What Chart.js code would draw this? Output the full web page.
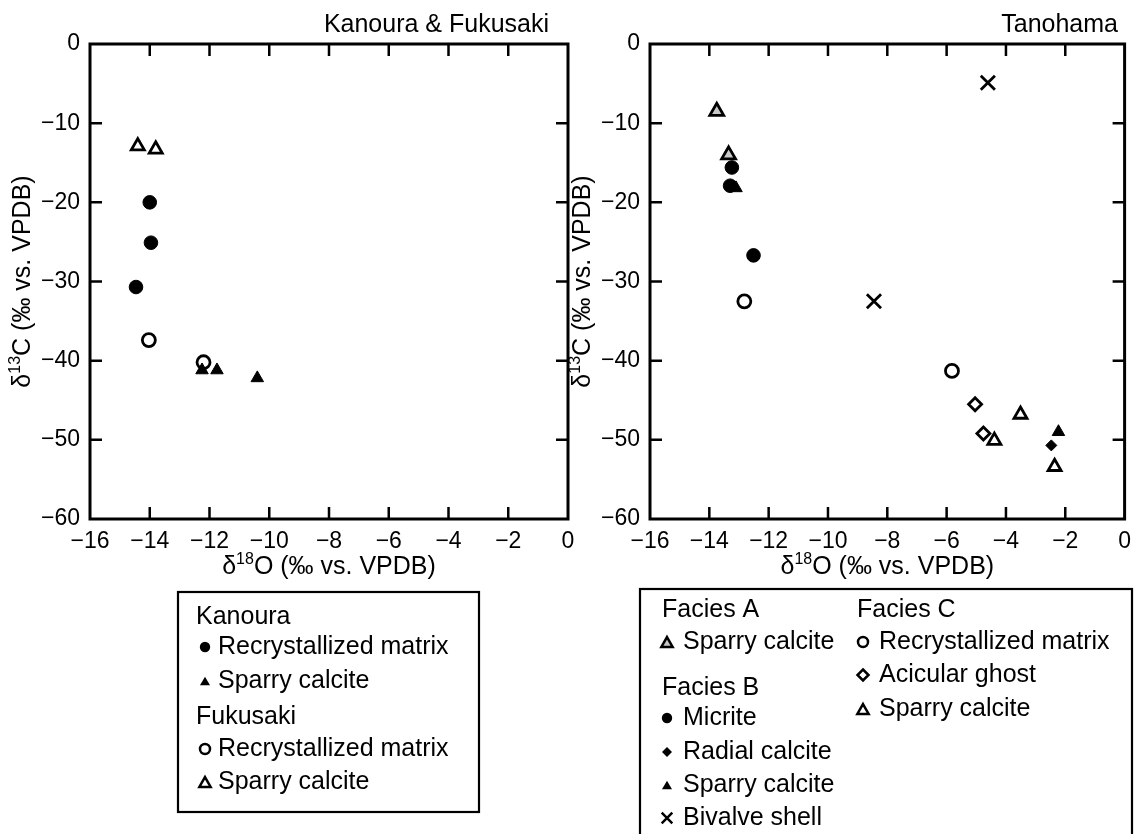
<!DOCTYPE html>
<html>
<head>
<meta charset="utf-8">
<script src="https://cdn.jsdelivr.net/npm/chart.js"></script>
<style>
html, body { margin: 0; padding: 0; background: #fff; }
#wrap { position: relative; width: 1140px; height: 834px; overflow: hidden; }
canvas { position: absolute; top: 0; }
</style>
</head>
<body>
<div id="wrap">
  <canvas id="kanoura" width="600" height="834" style="left:0"></canvas>
  <canvas id="tanohama" width="580" height="834" style="left:560px"></canvas>
</div>
<script>
// axis ticks
const xTickValues = [-16, -14, -12, -10, -8, -6, -4, -2, 0];
const yTickValues = [-60, -50, -40, -30, -20, -10, 0];

// Kanoura & Fukusaki (d18O, d13C)
const kanouraMatrixX = [-14.0, -13.96, -14.46];
const kanouraMatrixY = [-20.0, -25.1, -30.7];
const kanouraSparryX = [-12.25, -11.75, -10.4];
const kanouraSparryY = [-41.2, -41.2, -42.2];
const fukusakiMatrixX = [-14.03, -12.2];
const fukusakiMatrixY = [-37.4, -40.2];
const fukusakiSparryX = [-14.4, -13.8];
const fukusakiSparryY = [-12.9, -13.3];

// Tanohama
const faciesASparryX = [-13.75, -13.35];
const faciesASparryY = [-8.5, -14.0];
const micriteX = [-13.24, -13.3, -12.51];
const micriteY = [-15.6, -17.9, -26.7];
const radialX = [-2.47];
const radialY = [-50.7];
const faciesBSparryX = [-13.1, -2.23];
const faciesBSparryY = [-18.2, -49.0];
const bivalveX = [-4.61, -8.45];
const bivalveY = [-4.9, -32.5];
const faciesCMatrixX = [-12.82, -5.82];
const faciesCMatrixY = [-32.5, -41.3];
const acicularX = [-5.04, -4.76];
const acicularY = [-45.5, -49.2];
const faciesCSparryX = [-4.39, -3.51, -2.36];
const faciesCSparryY = [-50.1, -46.8, -53.4];

const FONT = '"Liberation Sans", Arial, Helvetica, sans-serif';
Chart.defaults.font.family = FONT;
Chart.defaults.color = '#000';

const fmt = v => (v < 0 ? '\u2212' + Math.abs(v) : String(v));

function pts(xs, ys) {
  return xs.map((x, i) => ({ x: x, y: ys[i] }));
}

function series(label, xs, ys, style, r, fill, lw) {
  return {
    label: label,
    data: pts(xs, ys),
    pointStyle: style,
    pointRadius: r,
    pointHoverRadius: r,
    pointBackgroundColor: fill,
    pointBorderColor: '#000',
    pointBorderWidth: lw,
    showLine: false
  };
}

// little marker painter for the legend boxes
function marker(ctx, style, x, y, r, fill, lw) {
  ctx.save();
  ctx.beginPath();
  if (style === 'circle') {
    ctx.arc(x, y, r, 0, Math.PI * 2);
  } else if (style === 'triangle') {
    y += r * 0.25;
    ctx.moveTo(x, y - r);
    ctx.lineTo(x + r * 0.866, y + r / 2);
    ctx.lineTo(x - r * 0.866, y + r / 2);
    ctx.closePath();
  } else if (style === 'rectRot') {
    ctx.moveTo(x, y - r);
    ctx.lineTo(x + r, y);
    ctx.lineTo(x, y + r);
    ctx.lineTo(x - r, y);
    ctx.closePath();
  } else if (style === 'crossRot') {
    const d = r * 0.707;
    ctx.moveTo(x - d, y - d); ctx.lineTo(x + d, y + d);
    ctx.moveTo(x + d, y - d); ctx.lineTo(x - d, y + d);
  }
  if (fill) { ctx.fillStyle = fill; ctx.fill(); }
  if (lw) { ctx.lineWidth = lw; ctx.strokeStyle = '#000'; ctx.lineJoin = 'miter'; ctx.stroke(); }
  ctx.restore();
}

function supText(ctx, parts, cx, cy, rot) {
  const big = '25px ' + FONT, small = '16px ' + FONT;
  let w = 0;
  parts.forEach(p => { ctx.font = p.sup ? small : big; p.w = ctx.measureText(p.t).width; w += p.w; });
  ctx.save();
  ctx.translate(cx, cy);
  ctx.rotate(rot);
  ctx.fillStyle = '#000';
  ctx.textBaseline = 'middle';
  ctx.textAlign = 'left';
  let px = -w / 2;
  parts.forEach(p => {
    ctx.font = p.sup ? small : big;
    ctx.fillText(p.t, px, p.sup ? -7 : 0);
    px += p.w;
  });
  ctx.restore();
}

// frame, inner ticks, titles and the boxed legend; cfg kept in a closure
function makeDecor(cfg) {
  return {
    id: 'decor',
    beforeDatasetsDraw(chart) {
      const ctx = chart.ctx, a = chart.chartArea;
      const x = chart.scales.x, y = chart.scales.y;
      ctx.save();
      ctx.strokeStyle = '#000';
      ctx.lineWidth = 2.5;
      ctx.beginPath();
      x.ticks.forEach(t => {
        if (t.value === x.min || t.value === x.max) return;
        const px = x.getPixelForValue(t.value);
        ctx.moveTo(px, a.bottom); ctx.lineTo(px, a.bottom - 12);
        ctx.moveTo(px, a.top); ctx.lineTo(px, a.top + 12);
      });
      y.ticks.forEach(t => {
        if (t.value === y.min || t.value === y.max) return;
        const py = y.getPixelForValue(t.value);
        ctx.moveTo(a.left, py); ctx.lineTo(a.left + 12, py);
        ctx.moveTo(a.right, py); ctx.lineTo(a.right - 12, py);
      });
      ctx.stroke();
      ctx.lineWidth = 3;
      ctx.strokeRect(a.left, a.top, a.right - a.left, a.bottom - a.top);
      ctx.restore();
    },
    afterDraw(chart) {
      const ctx = chart.ctx, a = chart.chartArea;
      const off = cfg.offset;
      ctx.save();
      ctx.fillStyle = '#000';
      ctx.font = '25px ' + FONT;
      ctx.textAlign = 'right';
      ctx.textBaseline = 'middle';
      ctx.fillText(cfg.title, cfg.titleRight - off, 25);
      ctx.restore();

      supText(ctx, [{ t: '\u03b4' }, { t: '18', sup: true }, { t: 'O (\u2030 vs. VPDB)' }], (a.left + a.right) / 2, 567, 0);
      supText(ctx, [{ t: '\u03b4' }, { t: '13', sup: true }, { t: 'C (\u2030 vs. VPDB)' }], a.left - 67, (a.top + a.bottom) / 2, -Math.PI / 2);

      const b = cfg.legend.box;
      ctx.save();
      ctx.lineWidth = 2.2;
      ctx.strokeStyle = '#000';
      ctx.strokeRect(b[0] - off, b[1], b[2] - b[0], b[3] - b[1]);
      ctx.fillStyle = '#000';
      ctx.font = '25px ' + FONT;
      ctx.textAlign = 'left';
      ctx.textBaseline = 'middle';
      cfg.legend.items.forEach(it => {
        ctx.fillText(it.text, it.x - off, it.y);
        if (it.mk) marker(ctx, it.mk, it.mx - off, it.y, it.r, it.fill || null, it.lw || 0);
      });
      ctx.restore();
    }
  };
}

function makeOptions(padRight) {
  return {
    responsive: false,
    animation: false,
    events: [],
    layout: { padding: { left: 0, top: 44, right: padRight, bottom: 255 } },
    plugins: { legend: { display: false }, tooltip: { enabled: false } },
    scales: {
      x: {
        type: 'linear', min: -16, max: 0,
        afterBuildTicks: s => { s.ticks = xTickValues.map(v => ({ value: v })); },
        afterFit: s => { s.height = 60; },
        grid: { display: false, drawTicks: false },
        border: { display: false },
        ticks: { autoSkip: false, maxRotation: 0, padding: 9, font: { size: 23 }, callback: fmt }
      },
      y: {
        type: 'linear', min: -60, max: 0,
        afterBuildTicks: s => { s.ticks = yTickValues.map(v => ({ value: v })); },
        afterFit: s => { s.width = 90; },
        grid: { display: false, drawTicks: false },
        border: { display: false },
        ticks: { autoSkip: false, padding: 10, font: { size: 23 }, callback: fmt }
      }
    }
  };
}

new Chart(document.getElementById('kanoura'), {
  type: 'scatter',
  data: {
    datasets: [
      series('Fukusaki recrystallized matrix', fukusakiMatrixX, fukusakiMatrixY, 'circle', 6.5, 'rgba(0,0,0,0)', 2.8),
      series('Fukusaki sparry calcite', fukusakiSparryX, fukusakiSparryY, 'triangle', 7.5, 'rgba(0,0,0,0)', 2.8),
      series('Kanoura recrystallized matrix', kanouraMatrixX, kanouraMatrixY, 'circle', 6.8, '#000', 1),
      series('Kanoura sparry calcite', kanouraSparryX, kanouraSparryY, 'triangle', 7.2, '#000', 1)
    ]
  },
  options: makeOptions(32),
  plugins: [makeDecor({
    offset: 0,
    title: 'Kanoura & Fukusaki',
    titleRight: 549,
    legend: {
      box: [178, 592, 479, 812],
      items: [
        { text: 'Kanoura', x: 196, y: 617 },
        { text: 'Recrystallized matrix', x: 218, y: 647, mk: 'circle', mx: 205, r: 5.2, fill: '#000' },
        { text: 'Sparry calcite', x: 218, y: 681, mk: 'triangle', mx: 205, r: 5.8, fill: '#000' },
        { text: 'Fukusaki', x: 196, y: 717 },
        { text: 'Recrystallized matrix', x: 218, y: 749, mk: 'circle', mx: 205, r: 5, lw: 2.5 },
        { text: 'Sparry calcite', x: 218, y: 782, mk: 'triangle', mx: 205, r: 6.5, lw: 2.5 }
      ]
    }
  })]
});

new Chart(document.getElementById('tanohama'), {
  type: 'scatter',
  data: {
    datasets: [
      series('Facies C recrystallized matrix', faciesCMatrixX, faciesCMatrixY, 'circle', 6.5, 'rgba(0,0,0,0)', 2.8),
      series('Facies C acicular ghost', acicularX, acicularY, 'rectRot', 6.5, 'rgba(0,0,0,0)', 2.8),
      series('Facies C sparry calcite', faciesCSparryX, faciesCSparryY, 'triangle', 7.5, 'rgba(0,0,0,0)', 2.8),
      series('Bivalve shell', bivalveX, bivalveY, 'crossRot', 10, 'rgba(0,0,0,0)', 2.8),
      series('Facies B sparry calcite', faciesBSparryX, faciesBSparryY, 'triangle', 7.2, '#000', 1),
      series('Radial calcite', radialX, radialY, 'rectRot', 5.5, '#000', 1),
      series('Micrite', micriteX, micriteY, 'circle', 6.8, '#000', 1),
      series('Facies A sparry calcite', faciesASparryX, faciesASparryY, 'triangle', 8, '#c8c8c8', 2.8)
    ]
  },
  options: makeOptions(12),
  plugins: [makeDecor({
    offset: 560,
    title: 'Tanohama',
    titleRight: 1118,
    legend: {
      box: [640, 589, 1132, 860],
      items: [
        { text: 'Facies A', x: 662, y: 610 },
        { text: 'Sparry calcite', x: 683, y: 642, mk: 'triangle', mx: 667, r: 6.5, fill: '#c8c8c8', lw: 2.5 },
        { text: 'Facies B', x: 662, y: 688 },
        { text: 'Micrite', x: 683, y: 718, mk: 'circle', mx: 667, r: 5.2, fill: '#000' },
        { text: 'Radial calcite', x: 683, y: 752, mk: 'rectRot', mx: 667, r: 5, fill: '#000' },
        { text: 'Sparry calcite', x: 683, y: 785, mk: 'triangle', mx: 667, r: 5.8, fill: '#000' },
        { text: 'Bivalve shell', x: 683, y: 818, mk: 'crossRot', mx: 667, r: 7.5, lw: 2.5 },
        { text: 'Facies C', x: 857, y: 610 },
        { text: 'Recrystallized matrix', x: 879, y: 642, mk: 'circle', mx: 863, r: 5, lw: 2.5 },
        { text: 'Acicular ghost', x: 879, y: 675, mk: 'rectRot', mx: 863, r: 5.5, lw: 2.5 },
        { text: 'Sparry calcite', x: 879, y: 709, mk: 'triangle', mx: 863, r: 6.5, lw: 2.5 }
      ]
    }
  })]
});
</script>
</body>
</html>
